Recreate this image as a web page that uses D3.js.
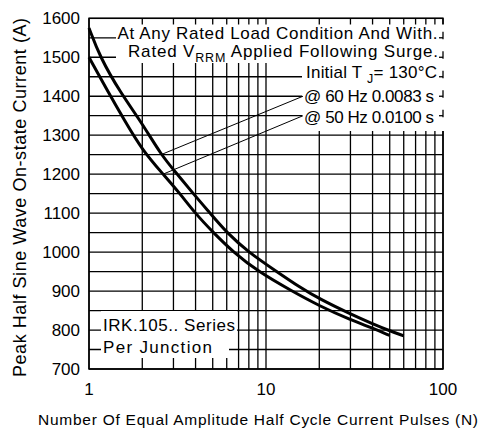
<!DOCTYPE html>
<html><head><meta charset="utf-8">
<script src="https://cdn.jsdelivr.net/npm/d3@7"></script>
<style>
html,body{margin:0;padding:0;background:#fff;}
svg{display:block;}
text{font-family:"Liberation Sans",Arial,sans-serif;fill:#000;}
</style></head>
<body>
<svg id="c" width="480" height="430"></svg>
<script>
// ---- data ----
const pulses60 = [1, 1.15, 1.5, 2, 2.55, 3.15, 3.88, 4.83, 6, 7.94, 11.5, 15.5, 20, 30, 40, 50, 60];
const current60 = [1575, 1502, 1410, 1330, 1250, 1200, 1150, 1100, 1050, 1000, 950, 910, 880, 841, 816, 798, 785];
const pulses50 = [1, 1.25, 1.6, 2, 2.62, 3.27, 3.97, 5.04, 6.53, 9.03, 14, 20, 30, 40, 50];
const current50 = [1500, 1420, 1335, 1262, 1200, 1150, 1100, 1050, 1000, 950, 900, 862, 826, 805, 786];
const xTickValues = [1, 10, 100];
const xTickLabels = ["1", "10", "100"];
const yTickValues = [700, 800, 900, 1000, 1100, 1200, 1300, 1400, 1500, 1600];
const yTickLabels = ["700", "800", "900", "1000", "1100", "1200", "1300", "1400", "1500", "1600"];
const xMinor = [1,2,3,4,5,6,7,8,9,10,20,30,40,50,60,70,80,90,100];
const yMinor = d3.range(700, 1601, 50);

const svg = d3.select("#c");
const L = 89, R = 443, T = 18.3, B = 369;
const x = d3.scaleLog().domain([1, 100]).range([L, R]);
const y = d3.scaleLinear().domain([700, 1600]).range([B, T]);
const g = svg.append("g");

// grid
g.selectAll("line.vx").data(xMinor).join("line")
  .attr("x1", d => x(d)).attr("x2", d => x(d)).attr("y1", T).attr("y2", B)
  .attr("stroke", "#000").attr("stroke-width", 1.3);
g.selectAll("line.hy").data(yMinor).join("line")
  .attr("x1", L).attr("x2", R).attr("y1", d => y(d)).attr("y2", d => y(d))
  .attr("stroke", "#000").attr("stroke-width", 1.3);
g.append("rect").attr("x", L).attr("y", T).attr("width", R - L).attr("height", B - T)
  .attr("fill", "none").attr("stroke", "#000").attr("stroke-width", 1.5);

// white label boxes
const boxes = [
  [116, 24.5, 446, 63], [302, 63, 446, 131], [101, 311, 237, 338], [101, 338, 229, 358]
];
g.selectAll("rect.box").data(boxes).join("rect")
  .attr("x", d => d[0]).attr("y", d => d[1]).attr("width", d => d[2] - d[0]).attr("height", d => d[3] - d[1])
  .attr("fill", "#fff");

// right frame stubs at label rows
[1550, 1500, 1450, 1400, 1350].forEach(v => {
  g.append("line").attr("x1", R).attr("x2", R).attr("y1", y(v) - 6).attr("y2", y(v) + 1.5)
    .attr("stroke", "#000").attr("stroke-width", 1.3);
  g.append("line").attr("x1", R - 4).attr("x2", R).attr("y1", y(v)).attr("y2", y(v))
    .attr("stroke", "#000").attr("stroke-width", 1.3);
});

// curves
const line = d3.line().x(d => x(d[0])).y(d => y(d[1])).curve(d3.curveBasis);
const s60 = pulses60.map((p, i) => [p, current60[i]]);
const s50 = pulses50.map((p, i) => [p, current50[i]]);
[s60, s50].forEach(s => g.append("path").attr("d", line(s)).attr("fill", "none")
  .attr("stroke", "#000").attr("stroke-width", 3));

// leaders
g.append("line").attr("x1", 303).attr("y1", y(1400)).attr("x2", x(2.55)).attr("y2", y(1250))
  .attr("stroke", "#000").attr("stroke-width", 1);
g.append("line").attr("x1", 303).attr("y1", y(1350)).attr("x2", x(2.62)).attr("y2", y(1200))
  .attr("stroke", "#000").attr("stroke-width", 1);

// annotation text
const fs = 17;
g.append("text").attr("x", 117.5).attr("y", y(1550) + 1).attr("font-size", fs)
  .attr("textLength", 320).attr("lengthAdjust", "spacing").text("At Any Rated Load Condition And With.");
const t2 = g.append("text").attr("x", 128).attr("y", y(1500) - 0.5).attr("font-size", fs)
  .attr("textLength", 310).attr("lengthAdjust", "spacing");
t2.append("tspan").text("Rated V");
t2.append("tspan").attr("font-size", 12.5).attr("dy", 5).text("RRM");
t2.append("tspan").attr("dy", -5).text(" Applied Following Surge.");
const t3 = g.append("text").attr("x", 306).attr("y", y(1450) + 1.3).attr("font-size", fs)
  .attr("textLength", 131).attr("lengthAdjust", "spacing");
t3.append("tspan").text("Initial T ");
t3.append("tspan").attr("font-size", 12.5).attr("dy", 5).text("J");
t3.append("tspan").attr("dy", -5).text("= 130°C");
g.append("text").attr("x", 304).attr("y", y(1400) + 6).attr("font-size", fs)
  .attr("textLength", 130).attr("lengthAdjust", "spacing").text("@ 60 Hz 0.0083 s");
g.append("text").attr("x", 304).attr("y", y(1350) + 7).attr("font-size", fs)
  .attr("textLength", 130).attr("lengthAdjust", "spacing").text("@ 50 Hz 0.0100 s");
g.append("text").attr("x", 103).attr("y", y(800) + 1).attr("font-size", fs)
  .attr("textLength", 132).attr("lengthAdjust", "spacing").text("IRK.105.. Series");
g.append("text").attr("x", 103).attr("y", y(750) + 3).attr("font-size", fs)
  .attr("textLength", 109).attr("lengthAdjust", "spacing").text("Per Junction");

// tick labels
g.selectAll("text.yt").data(yTickValues).join("text")
  .attr("x", 80).attr("y", d => y(d)).attr("dy", "0.36em").attr("text-anchor", "end")
  .attr("font-size", fs).text((d, i) => yTickLabels[i]);
g.selectAll("text.xt").data(xTickValues).join("text")
  .attr("x", d => x(d)).attr("y", 395).attr("text-anchor", "middle")
  .attr("font-size", fs).text((d, i) => xTickLabels[i]);

// axis titles
g.append("text").attr("transform", "translate(26,377) rotate(-90)").attr("text-anchor", "start")
  .attr("font-size", 18).attr("textLength", 359).attr("lengthAdjust", "spacing")
  .text("Peak Half Sine Wave On-state Current (A)");
g.append("text").attr("x", 38).attr("y", 425).attr("text-anchor", "start")
  .attr("font-size", 15.5).attr("textLength", 440).attr("lengthAdjust", "spacing")
  .text("Number Of Equal Amplitude Half Cycle Current Pulses (N)");
</script>
</body></html>
